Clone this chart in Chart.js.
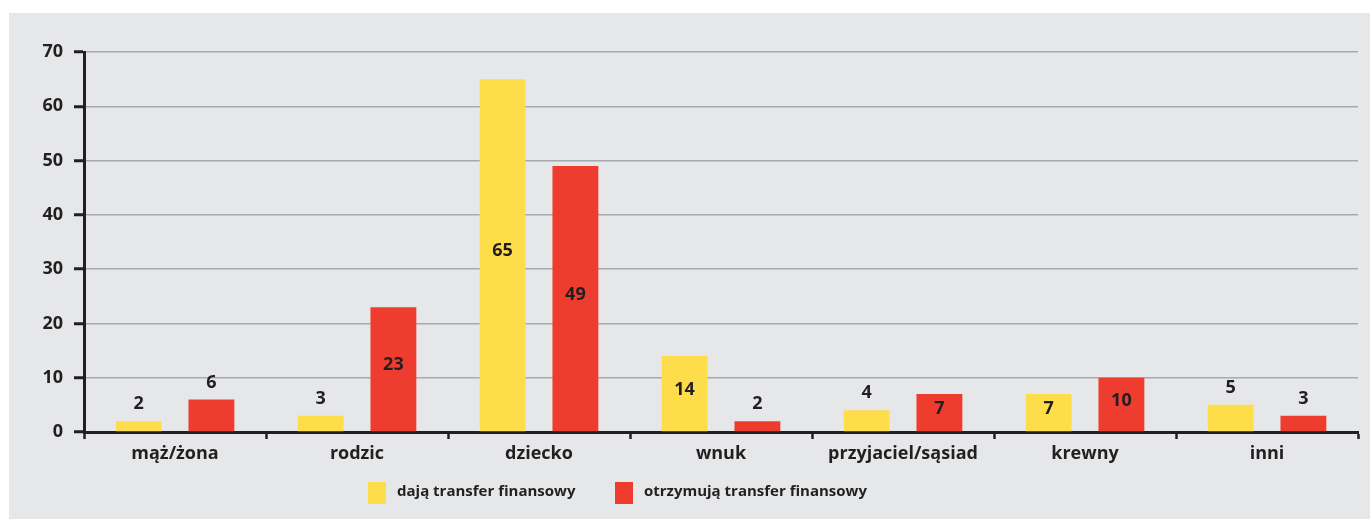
<!DOCTYPE html>
<html>
<head>
<meta charset="utf-8">
<script src="https://cdn.jsdelivr.net/npm/chart.js@4.4.1/dist/chart.umd.min.js"></script>
<style>
  html, body { margin: 0; padding: 0; background: #fff; }
  #wrap { width: 1370px; height: 519px; position: relative; }
</style>
</head>
<body>
<div id="wrap"><canvas id="chart"></canvas></div>
<script>
// data
const categories = ['mąż/żona', 'rodzic', 'dziecko', 'wnuk', 'przyjaciel/sąsiad', 'krewny', 'inni'];
const giveValues = [2, 3, 65, 14, 4, 7, 5];
const receiveValues = [6, 23, 49, 2, 7, 10, 3];
const seriesNames = ['dają transfer finansowy', 'otrzymują transfer finansowy'];
const yTicks = [0, 10, 20, 30, 40, 50, 60, 70];

const FONT = '"Open Sans", "Noto Sans", sans-serif';
const INK = '#231f20';

// grey panel behind everything
const panelPlugin = {
    id: 'panel',
    beforeDraw(chart) {
        const c = chart.ctx;
        c.save();
        c.fillStyle = '#ffffff';
        c.fillRect(0, 0, chart.width, chart.height);
        c.fillStyle = '#e6e7e9';
        c.fillRect(9, 13, chart.width - 9, chart.height - 13);
        c.restore();
    }
};

// numbers on the bars: inside when the bar is tall enough, above otherwise
const valueLabels = {
    id: 'valueLabels',
    afterDatasetsDraw(chart) {
        const c = chart.ctx;
        c.save();
        c.font = 'bold 18px ' + FONT;
        c.fillStyle = INK;
        c.textAlign = 'center';
        c.textBaseline = 'middle';
        chart.data.datasets.forEach((ds, i) => {
            chart.getDatasetMeta(i).data.forEach((bar, j) => {
                const v = ds.data[j];
                const y = v >= 7 ? (bar.y + bar.base) / 2 - 4 : bar.y - 17;
                c.fillText(String(v), bar.x, y);
            });
        });
        c.restore();
    }
};

// legend drawn under the axis
const bottomLegend = {
    id: 'bottomLegend',
    afterDraw(chart) {
        const c = chart.ctx;
        const starts = [368, 615];
        c.save();
        c.font = 'bold 15px ' + FONT;
        c.textBaseline = 'middle';
        chart.data.datasets.forEach((ds, i) => {
            const x = starts[i];
            c.fillStyle = ds.backgroundColor;
            c.fillRect(x, 482, 18, 22);
            c.fillStyle = INK;
            c.fillText(ds.label, x + 29, 492);
        });
        c.restore();
    }
};

new Chart(document.getElementById('chart'), {
    type: 'bar',
    data: {
        labels: categories,
        datasets: [
            { label: seriesNames[0], data: giveValues, backgroundColor: '#fedd4b' },
            { label: seriesNames[1], data: receiveValues, backgroundColor: '#ee3d2f' }
        ]
    },
    options: {
        responsive: true,
        maintainAspectRatio: false,
        animation: false,
        categoryPercentage: 0.8,
        barPercentage: 0.63,
        layout: { padding: { top: 52, right: 12, bottom: 27, left: 0 } },
        plugins: {
            legend: { display: false },
            tooltip: { enabled: false }
        },
        scales: {
            x: {
                offset: true,
                grid: {
                    offset: true,
                    drawOnChartArea: false,
                    drawTicks: true,
                    tickLength: 7,
                    tickColor: INK,
                    tickWidth: 2.5
                },
                border: { display: true, color: INK, width: 3 },
                ticks: { color: INK, padding: 4, font: { family: FONT, size: 18, weight: 'bold' } },
                afterFit: s => { s.height = 60; }
            },
            y: {
                min: 0,
                max: 70,
                afterBuildTicks: s => { s.ticks = yTicks.map(v => ({ value: v })); },
                grid: {
                    color: '#a7a9ac',
                    lineWidth: 1.5,
                    drawTicks: true,
                    tickLength: 10,
                    tickColor: INK,
                    tickWidth: 3
                },
                border: { display: true, color: INK, width: 3 },
                ticks: { color: INK, padding: 11, font: { family: FONT, size: 18, weight: 'bold' } },
                afterFit: s => { s.width = 84; }
            }
        }
    },
    plugins: [panelPlugin, valueLabels, bottomLegend]
});
</script>
</body>
</html>
